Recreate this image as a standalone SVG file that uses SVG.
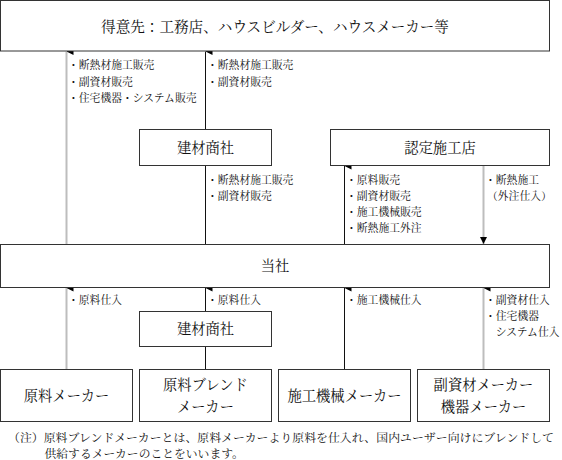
<svg xmlns="http://www.w3.org/2000/svg" width="562" height="460" viewBox="0 0 562 460">
<style>
.box{fill:#fff;stroke:#333;stroke-width:1}
.nt{font-family:"Noto Serif CJK JP","Noto Sans CJK JP",serif;font-size:14.3px;fill:#111;text-anchor:middle}
.lb{font-family:"Noto Serif CJK JP","Noto Sans CJK JP",serif;font-size:10.8px;fill:#111}
.fn{font-family:"Noto Serif CJK JP","Noto Sans CJK JP",serif;font-size:11.8px;fill:#111}
.blk{stroke:#111;stroke-width:1;fill:none}
.gry{stroke:#bdbdbd;stroke-width:2;fill:none}
</style>
<defs>
<marker id="ah" viewBox="0 0 7 7" refX="3.5" refY="0" markerWidth="7" markerHeight="7" markerUnits="userSpaceOnUse" orient="auto-start-reverse">
<path d="M0,7 L3.5,0 L7,7 Z" fill="#000"/>
</marker>
<marker id="ahd" viewBox="0 0 7 7" refX="3.5" refY="7" markerWidth="7" markerHeight="7" markerUnits="userSpaceOnUse">
<path d="M0,0 L7,0 L3.5,7 Z" fill="#000"/>
</marker>
</defs>
<g id="connectors">
<line class="gry" x1="66.5" y1="244.5" x2="66.5" y2="51.5" marker-end="url(#ah)"/>
<line class="gry" x1="66.5" y1="369.5" x2="66.5" y2="288" marker-end="url(#ah)"/>
<line class="blk" x1="205.5" y1="129.5" x2="205.5" y2="51.5" marker-end="url(#ah)"/>
<line class="blk" x1="205.5" y1="244.5" x2="205.5" y2="165.5"/>
<line class="blk" x1="205.5" y1="311.5" x2="205.5" y2="288" marker-end="url(#ah)"/>
<line class="blk" x1="205.5" y1="369.5" x2="205.5" y2="346.5"/>
<line class="blk" x1="344.5" y1="244.5" x2="344.5" y2="166" marker-end="url(#ah)"/>
<line class="blk" x1="344.5" y1="369.5" x2="344.5" y2="288" marker-end="url(#ah)"/>
<line class="gry" x1="483.5" y1="165.5" x2="483.5" y2="244" marker-end="url(#ahd)"/>
<line class="gry" x1="483.5" y1="369.5" x2="483.5" y2="288" marker-end="url(#ah)"/>
</g>
<g id="customer">
<rect class="box" x="0.5" y="0.5" width="549" height="50.5"/>
<text class="nt" x="275" y="32" style="font-size:14.6px">得意先：工務店、ハウスビルダー、ハウスメーカー等</text>
</g>
<g id="kenzai-upper">
<rect class="box" x="139.5" y="129.5" width="132" height="36"/>
<text class="nt" x="205.5" y="153">建材商社</text>
</g>
<g id="nintei">
<rect class="box" x="330.5" y="129.5" width="219" height="36"/>
<text class="nt" x="440" y="153">認定施工店</text>
</g>
<g id="tosha">
<rect class="box" x="0.5" y="244.5" width="549" height="43"/>
<text class="nt" x="275" y="271">当社</text>
</g>
<g id="kenzai-lower">
<rect class="box" x="139.5" y="311.5" width="132" height="35"/>
<text class="nt" x="205.5" y="334">建材商社</text>
</g>
<g id="maker1">
<rect class="box" x="0.5" y="369.5" width="132" height="52"/>
<text class="nt" x="66.5" y="401">原料メーカー</text>
</g>
<g id="maker2">
<rect class="box" x="139.5" y="369.5" width="132" height="52"/>
<text class="nt" x="205.5" y="390">原料ブレンド</text>
<text class="nt" x="205.5" y="412">メーカー</text>
</g>
<g id="maker3">
<rect class="box" x="278.5" y="369.5" width="132" height="52"/>
<text class="nt" x="344.5" y="401">施工機械メーカー</text>
</g>
<g id="maker4">
<rect class="box" x="417.5" y="369.5" width="132" height="52"/>
<text class="nt" x="483.5" y="390">副資材メーカー</text>
<text class="nt" x="483.5" y="412">機器メーカー</text>
</g>
<g id="labels">
<text class="lb" x="68" y="69">・断熱材施工販売</text>
<text class="lb" x="68" y="85.5">・副資材販売</text>
<text class="lb" x="68" y="102">・住宅機器・システム販売</text>
<text class="lb" x="207" y="69">・断熱材施工販売</text>
<text class="lb" x="207" y="85.5">・副資材販売</text>
<text class="lb" x="207" y="184">・断熱材施工販売</text>
<text class="lb" x="207" y="200">・副資材販売</text>
<text class="lb" x="346" y="184">・原料販売</text>
<text class="lb" x="346" y="200">・副資材販売</text>
<text class="lb" x="346" y="216">・施工機械販売</text>
<text class="lb" x="346" y="232">・断熱施工外注</text>
<text class="lb" x="485" y="184">・断熱施工</text>
<text class="lb" x="487" y="200">（外注仕入）</text>
<text class="lb" x="68" y="304">・原料仕入</text>
<text class="lb" x="207" y="304">・原料仕入</text>
<text class="lb" x="346" y="304">・施工機械仕入</text>
<text class="lb" x="485" y="304">・副資材仕入</text>
<text class="lb" x="485" y="320">・住宅機器</text>
<text class="lb" x="495.8" y="336">システム仕入</text>
</g>
<g id="note">
<text class="fn" x="8" y="442" textLength="546" lengthAdjust="spacingAndGlyphs">（注）原料ブレンドメーカーとは、原料メーカーより原料を仕入れ、国内ユーザー向けにブレンドして</text>
<text class="fn" x="44.5" y="457.5">供給するメーカーのことをいいます。</text>
</g>
</svg>
